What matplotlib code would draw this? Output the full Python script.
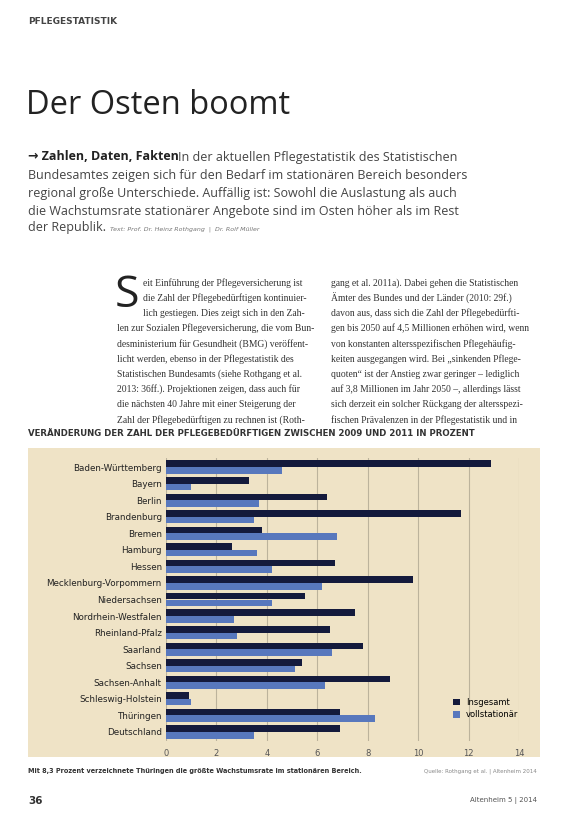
import matplotlib
matplotlib.use("Agg")
import matplotlib.pyplot as plt
from matplotlib.patches import Rectangle
import numpy as np

laender = ["Baden-Württemberg", "Bayern", "Berlin", "Brandenburg", "Bremen", "Hamburg",
           "Hessen", "Mecklenburg-Vorpommern", "Niedersachsen", "Nordrhein-Westfalen",
           "Rheinland-Pfalz", "Saarland", "Sachsen", "Sachsen-Anhalt", "Schleswig-Holstein",
           "Thüringen", "Deutschland"]
insgesamt = [12.9, 3.3, 6.4, 11.7, 3.8, 2.6, 6.7, 9.8, 5.5, 7.5, 6.5, 7.8, 5.4, 8.9, 0.9, 6.9, 6.9]
vollstationaer = [4.6, 1.0, 3.7, 3.5, 6.8, 3.6, 4.2, 6.2, 4.2, 2.7, 2.8, 6.6, 5.1, 6.3, 1.0, 8.3, 3.5]
xticks = [0, 2, 4, 6, 8, 10, 12, 14]

W, H = 565, 816
fig = plt.figure(figsize=(W/100, H/100), dpi=100)
fig.patch.set_facecolor("white")

def fy(p): return 1 - p/H
def fx(p): return p/W

OS = ["Open Sans", "DejaVu Sans"]
fig.text(fx(28), fy(22), "PFLEGESTATISTIK", fontsize=6.5, fontweight="bold", color="#444", va="center", family="DejaVu Sans")
fig.text(fx(26), fy(106), "Der Osten boomt", fontsize=23.5, color="#222", va="center", family=OS)

fig.text(fx(28), fy(157), "→ Zahlen, Daten, Fakten", fontsize=9.0, fontweight="bold", color="#222", va="center", family=OS)
fig.text(fx(178), fy(157), "In der aktuellen Pflegestatistik des Statistischen", fontsize=9.0, color="#444", va="center", family=OS)
lines = ["Bundesamtes zeigen sich für den Bedarf im stationären Bereich besonders",
         "regional große Unterschiede. Auffällig ist: Sowohl die Auslastung als auch",
         "die Wachstumsrate stationärer Angebote sind im Osten höher als im Rest"]
for i, l in enumerate(lines):
    fig.text(fx(28), fy(175 + 18*i), l, fontsize=9.0, color="#444", va="center", family=OS)
fig.text(fx(28), fy(228), "der Republik.", fontsize=9.0, color="#444", va="center", family=OS)
fig.text(fx(110), fy(229), "Text: Prof. Dr. Heinz Rothgang  |  Dr. Rolf Müller", fontsize=4.5, style="italic", color="#777", va="center")

# body columns
fig.text(fx(115), fy(296), "S", fontsize=32, color="#222", va="center", family=OS)
col1 = ["eit Einführung der Pflegeversicherung ist",
        "die Zahl der Pflegebedürftigen kontinuier-",
        "lich gestiegen. Dies zeigt sich in den Zah-",
        "len zur Sozialen Pflegeversicherung, die vom Bun-",
        "desministerium für Gesundheit (BMG) veröffent-",
        "licht werden, ebenso in der Pflegestatistik des",
        "Statistischen Bundesamts (siehe Rothgang et al.",
        "2013: 36ff.). Projektionen zeigen, dass auch für",
        "die nächsten 40 Jahre mit einer Steigerung der",
        "Zahl der Pflegebedürftigen zu rechnen ist (Roth-"]
col2 = ["gang et al. 2011a). Dabei gehen die Statistischen",
        "Ämter des Bundes und der Länder (2010: 29f.)",
        "davon aus, dass sich die Zahl der Pflegebedürfti-",
        "gen bis 2050 auf 4,5 Millionen erhöhen wird, wenn",
        "von konstanten altersspezifischen Pflegehäufig-",
        "keiten ausgegangen wird. Bei „sinkenden Pflege-",
        "quoten“ ist der Anstieg zwar geringer – lediglich",
        "auf 3,8 Millionen im Jahr 2050 –, allerdings lässt",
        "sich derzeit ein solcher Rückgang der altersspezi-",
        "fischen Prävalenzen in der Pflegestatistik und in"]
for i, l in enumerate(col1):
    x = 143 if i < 3 else 117
    fig.text(fx(x), fy(283 + 15.2*i), l, fontsize=6.9, color="#333", va="center", family="Liberation Serif")
for i, l in enumerate(col2):
    fig.text(fx(331), fy(283 + 15.2*i), l, fontsize=6.9, color="#333", va="center", family="Liberation Serif")

fig.text(fx(28), fy(433), "VERÄNDERUNG DER ZAHL DER PFLEGEBEDÜRFTIGEN ZWISCHEN 2009 UND 2011 IN PROZENT",
         fontsize=6.2, fontweight="bold", color="#333", va="center", family="DejaVu Sans")

# beige panel
fig.patches.append(Rectangle((fx(28), fy(757)), fx(540-28), (757-448)/H, transform=fig.transFigure,
                             facecolor="#efe3c6", edgecolor="none", zorder=-5))

ax = fig.add_axes([fx(166), fy(741), fx(519-166), (741-458)/H])
ax.set_zorder(2)
ax.set_facecolor("none")
y = np.arange(len(laender))
h = 0.4
ax.barh(y - h/2, insgesamt, height=h, color="#141a3c", label="Insgesamt", zorder=3)
ax.barh(y + h/2, vollstationaer, height=h, color="#5878bd", label="vollstationär", zorder=3)
ax.set_ylim(len(laender) - 0.45, -0.55)
ax.set_xlim(0, 14)
ax.set_xticks(xticks)
ax.set_xticklabels([str(t) for t in xticks], fontsize=6, color="#555")
ax.set_yticks(y)
ax.set_yticklabels(laender, fontsize=6.3, color="#222")
ax.tick_params(length=0, pad=3)
ax.tick_params(axis="x", pad=6)
ax.grid(axis="x", color="#bcb39c", linewidth=0.8, zorder=0)
for s in ax.spines.values():
    s.set_visible(False)
ax.legend(loc="lower right", bbox_to_anchor=(1.02, 0.05), frameon=False, fontsize=6,
          handlelength=0.8, handleheight=0.8, labelspacing=0.4)

fig.text(fx(28), fy(771), "Mit 8,3 Prozent verzeichnete Thüringen die größte Wachstumsrate im stationären Bereich.",
         fontsize=4.7, fontweight="bold", color="#333", va="center")
fig.text(fx(537), fy(771), "Quelle: Rothgang et al. | Altenheim 2014", fontsize=4, color="#888", va="center", ha="right")
fig.text(fx(28), fy(801), "36", fontsize=7.5, fontweight="bold", color="#333", va="center")
fig.text(fx(537), fy(801), "Altenheim 5 | 2014", fontsize=5, color="#555", va="center", ha="right")

fig.savefig("out.png", dpi=100, facecolor="white")
